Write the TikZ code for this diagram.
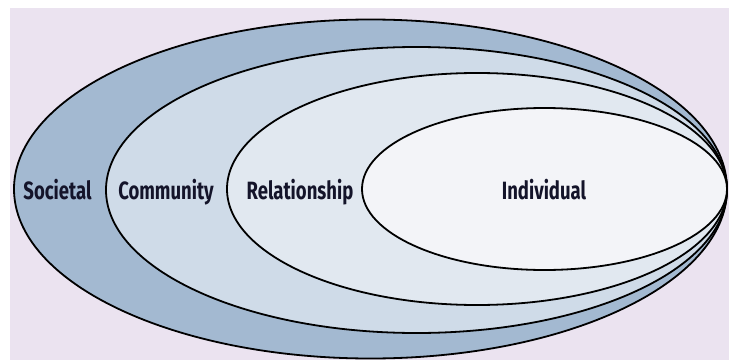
\documentclass[tikz,border=0pt]{standalone}
\usepackage{fontspec}
\newfontfamily\labfont[FakeStretch=0.74]{Fira Sans}
\definecolor{bgc}{HTML}{EBE3F0}
\definecolor{socc}{HTML}{A3B9D1}
\definecolor{comc}{HTML}{CFDBE8}
\definecolor{relc}{HTML}{E1E8F0}
\definecolor{indc}{HTML}{F3F4F8}
\definecolor{txtc}{HTML}{14142A}
\begin{document}
\begin{tikzpicture}[x=1pt,y=1pt,
  ring/.style={draw=black,line width=1.8pt},
  lab/.style={font=\labfont\bfseries\fontsize{25}{27}\selectfont,text=txtc,anchor=base,inner sep=0pt}]
\useasboundingbox (0,0) rectangle (729,360);
\fill[bgc] (10,0) rectangle (729,352);
\path[ring,fill=socc] (370.5,171) ellipse [x radius=356.5, y radius=169.5];
\path[ring,fill=comc] (416.5,170) ellipse [x radius=310.5, y radius=143];
\path[ring,fill=relc] (477,171) ellipse [x radius=250, y radius=116];
\path[ring,fill=indc] (544.5,171) ellipse [x radius=182.5, y radius=81];
\node[lab] (soc) at (57.5,161) {Societal};
\node[lab] (com) at (166,161) {Community};
\node[lab] (rel) at (300,161) {Relationship};
\node[lab] (ind) at (544,161) {Individual};
\end{tikzpicture}
\end{document}
